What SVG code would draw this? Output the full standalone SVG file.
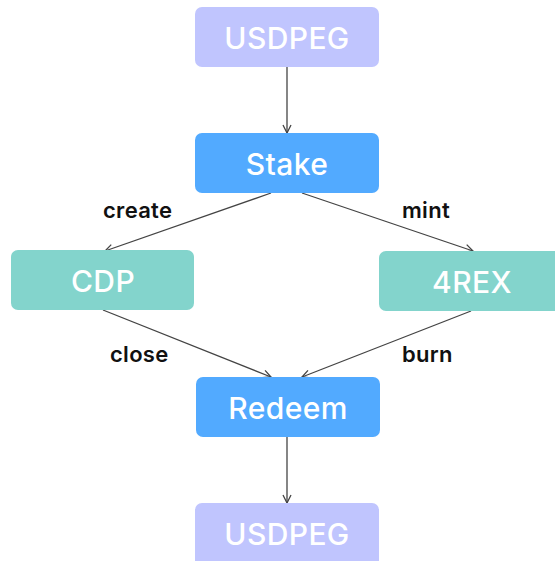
<svg xmlns="http://www.w3.org/2000/svg" width="555" height="561" viewBox="0 0 555 561">
<style>
.node text{font-family:Inter,"Noto Sans",sans-serif;font-size:30px;font-weight:500;fill:#fff;text-anchor:middle;dominant-baseline:central;letter-spacing:0.4px}
.peg rect{fill:#c0c5fe}
.blue rect{fill:#52aaff}
.teal rect{fill:#83d4cc}
.lbl{font-family:Inter,"Noto Sans",sans-serif;font-size:22px;font-weight:600;fill:#111;letter-spacing:0.3px}
#edges line{stroke:#444;stroke-width:1.3;marker-end:url(#arr)}
</style>
<defs>
<marker id="arr" viewBox="0 0 10 10" refX="9" refY="5" markerWidth="10" markerHeight="10" markerUnits="userSpaceOnUse" orient="auto">
<path d="M1,1 L9,5 L1,9" fill="none" stroke="#444" stroke-width="1.3"/>
</marker>
</defs>
<rect width="555" height="561" fill="#fff"/>
<g id="edges">
<line x1="287" y1="67" x2="287" y2="133"/>
<line x1="271" y1="193" x2="105" y2="251"/>
<line x1="302" y1="193" x2="473" y2="251"/>
<line x1="103" y1="310" x2="271" y2="377"/>
<line x1="471" y1="311" x2="302" y2="377"/>
<line x1="287" y1="437" x2="287" y2="503"/>
</g>
<g id="labels">
<text class="lbl" x="103" y="218">create</text>
<text class="lbl" x="402" y="218">mint</text>
<text class="lbl" x="110" y="362">close</text>
<text class="lbl" x="402" y="362">burn</text>
</g>
<g id="usdpeg-top" class="node peg"><rect x="195" y="7" width="184" height="60" rx="7"/><text x="287" y="38">USDPEG</text></g>
<g id="stake" class="node blue"><rect x="195" y="133" width="184" height="60" rx="7"/><text x="287" y="164">Stake</text></g>
<g id="cdp" class="node teal"><rect x="11" y="250" width="183" height="60" rx="7"/><text x="103" y="281">CDP</text></g>
<g id="rex" class="node teal"><rect x="379" y="251" width="186" height="60" rx="7"/><text x="472" y="282">4REX</text></g>
<g id="redeem" class="node blue"><rect x="196" y="377" width="184" height="60" rx="7"/><text x="288" y="408">Redeem</text></g>
<g id="usdpeg-bottom" class="node peg"><rect x="195" y="503" width="184" height="70" rx="7"/><text x="287" y="534">USDPEG</text></g>
</svg>
